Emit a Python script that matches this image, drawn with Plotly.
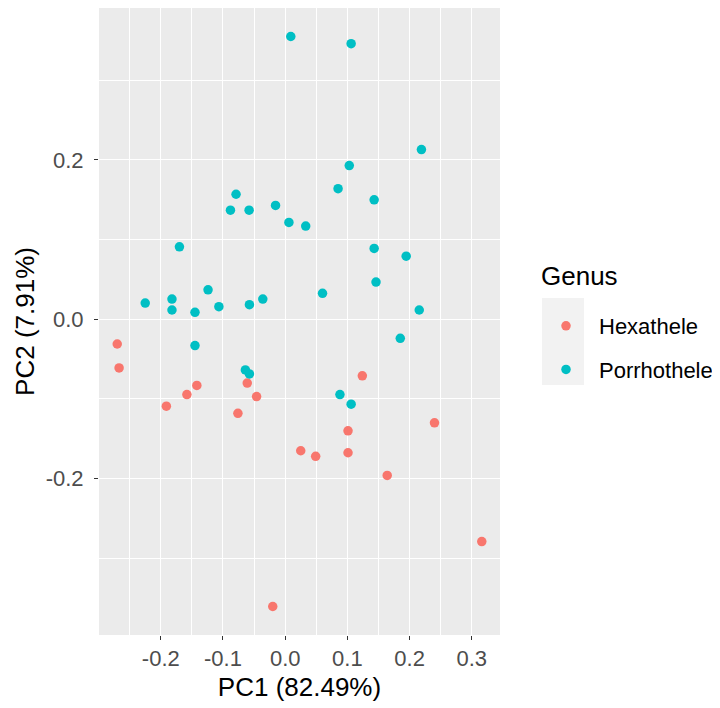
import plotly.graph_objects as go

hex_pc1 = [-0.270, -0.267, -0.142, -0.061, -0.158, -0.046, -0.191, -0.076, 0.124,
           0.240, 0.101, 0.025, 0.049, 0.101, 0.164, 0.316, -0.020]
hex_pc2 = [-0.031, -0.061, -0.083, -0.080, -0.0945, -0.097, -0.109, -0.118, -0.071,
           -0.130, -0.140, -0.165, -0.172, -0.1675, -0.196, -0.279, -0.3605]

por_pc1 = [0.009, 0.106, 0.219, 0.103, 0.085, 0.143, -0.079, -0.088, -0.058, -0.0155,
           0.006, 0.033, -0.170, 0.143, 0.1945, 0.146, 0.060, -0.124, -0.182, -0.225,
           -0.182, -0.145, -0.1066, -0.0575, -0.036, 0.2155, 0.185, -0.145, -0.064,
           -0.0575, 0.088, 0.106]
por_pc2 = [0.355, 0.346, 0.213, 0.193, 0.164, 0.150, 0.157, 0.137, 0.137, 0.143,
           0.1216, 0.117, 0.091, 0.089, 0.0793, 0.0467, 0.0326, 0.037, 0.0254, 0.0204,
           0.0117, 0.0088, 0.0158, 0.0183, 0.0254, 0.0117, -0.0238, -0.033, -0.0635,
           -0.0685, -0.0945, -0.1066]

x_ticks = [-0.2, -0.1, 0.0, 0.1, 0.2, 0.3]
x_labels = ["-0.2", "-0.1", "0.0", "0.1", "0.2", "0.3"]
y_ticks = [-0.2, 0.0, 0.2]
y_labels = ["-0.2", "0.0", "0.2"]

FONT = "Liberation Sans, Arial, sans-serif"

fig = go.Figure()
fig.add_trace(go.Scatter(x=hex_pc1, y=hex_pc2, mode="markers", name="Hexathele",
                         legendgroup="h",
                         marker=dict(color="#F8766D", size=9.5)))
fig.add_trace(go.Scatter(x=por_pc1, y=por_pc2, mode="markers", name="Porrhothele",
                         legendgroup="p",
                         marker=dict(color="#00BFC4", size=9.5)))

allx = hex_pc1 + por_pc1
ally = hex_pc2 + por_pc2
xr = max(allx) - min(allx)
yr = max(ally) - min(ally)

OFF = 8  # page body margin
L, R, T, B = 91, 228, 0, 81
PW = 720 - L - R
PH = 708 - T - B

def px_x(p):
    return (p - OFF - L) / PW

def px_y(p):
    return (708 - B - (p - OFF)) / PH

fig.update_layout(
    width=720, height=708,
    margin=dict(l=L, r=R, t=T, b=B, autoexpand=False),
    paper_bgcolor="white",
    plot_bgcolor="#EBEBEB",
    font=dict(family=FONT, color="#4D4D4D"),
    showlegend=True,
    legend=dict(
        x=px_x(533), y=px_y(305), xanchor="left", yanchor="top",
        bgcolor="rgba(0,0,0,0)",
        font=dict(size=22, color="black"),
        tracegroupgap=12,
        itemwidth=56,
    ),
    annotations=[dict(text="Genus", xref="paper", yref="paper",
                      x=px_x(539), y=px_y(276), xanchor="left", yanchor="middle",
                      showarrow=False, font=dict(size=26, color="black"))],
    xaxis=dict(
        range=[min(allx) - 0.05 * xr, max(allx) + 0.05 * xr],
        tickvals=x_ticks, ticktext=x_labels,
        showgrid=True, gridcolor="white", gridwidth=1.2,
        minor=dict(dtick=0.05, tick0=0.05, showgrid=True, gridcolor="white", gridwidth=0.8),
        zeroline=False, automargin=False,
        ticks="outside", ticklen=4, tickcolor="#333333", tickwidth=1.1,
        tickfont=dict(size=22, color="#4D4D4D"),
        title=dict(text="PC1 (82.49%)", font=dict(size=26, color="black"), standoff=7),
        showline=False,
    ),
    yaxis=dict(
        range=[min(ally) - 0.05 * yr, max(ally) + 0.05 * yr],
        tickvals=y_ticks, ticktext=y_labels,
        showgrid=True, gridcolor="white", gridwidth=1.2,
        minor=dict(dtick=0.1, tick0=0.1, showgrid=True, gridcolor="white", gridwidth=0.8),
        zeroline=False, automargin=False,
        ticks="outside", ticklen=4, tickcolor="#333333", tickwidth=1.1,
        ticklabelstandoff=6,
        tickfont=dict(size=22, color="#4D4D4D"),
        title=dict(text="PC2 (7.91%)", font=dict(size=26, color="black"), standoff=3),
        showline=False,
    ),
    shapes=[dict(type="rect", xref="paper", yref="paper",
                 x0=px_x(542), x1=px_x(584),
                 y0=px_y(385), y1=px_y(298),
                 fillcolor="#F2F2F2", line=dict(width=0), layer="below")],
)

fig.write_html("out.html")
